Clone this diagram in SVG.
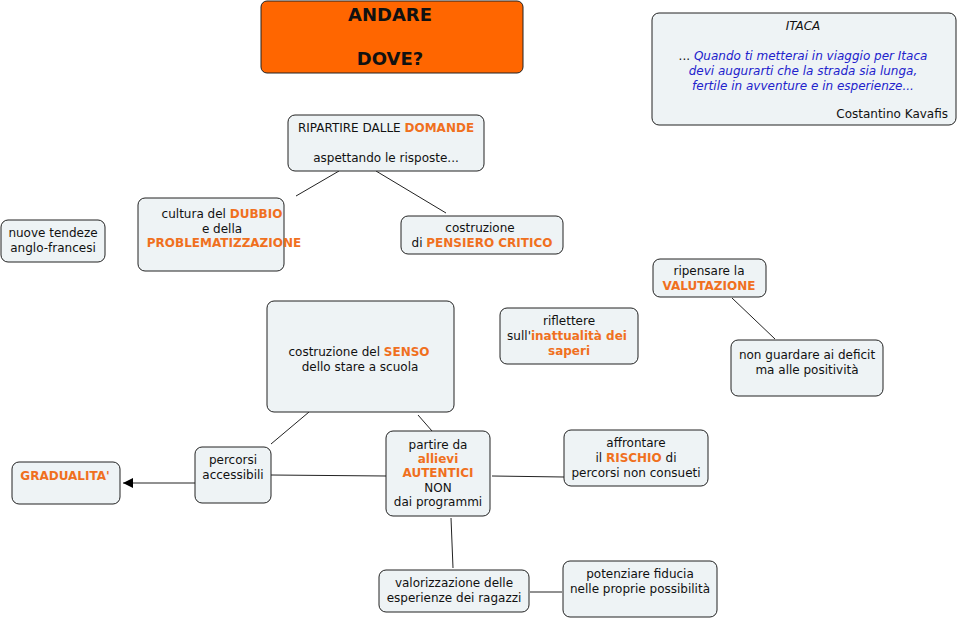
<svg xmlns="http://www.w3.org/2000/svg" width="959" height="620" viewBox="0 0 959 620">
<defs>
<style>
.n{fill:#EEF3F5;stroke:#222;stroke-width:1}
.t{font-family:"DejaVu Sans",Verdana,sans-serif;font-size:12px;fill:#111;text-anchor:middle}
.o{fill:#F0701E;font-weight:bold}
.q{fill:#2222CC;font-style:italic}
.c{stroke:#222;stroke-width:1;fill:none}
.h{font-size:18px;font-weight:bold}
</style>
<marker id="ar" viewBox="0 0 10 10" refX="10" refY="5" markerWidth="10" markerHeight="10" markerUnits="userSpaceOnUse" orient="auto"><path d="M0,0L10,5L0,10z" fill="#000"/></marker>
</defs>
<rect width="959" height="620" fill="#fff"/>
<g id="connectors">
<line class="c" x1="339" y1="171" x2="296" y2="196"/>
<line class="c" x1="376" y1="171" x2="446" y2="213"/>
<line class="c" x1="732" y1="298" x2="775" y2="339"/>
<line class="c" x1="309" y1="412" x2="271" y2="444"/>
<line class="c" x1="418" y1="415" x2="432" y2="431"/>
<line class="c" x1="271" y1="475" x2="386" y2="476"/>
<line class="c" x1="195" y1="483" x2="123" y2="483" marker-end="url(#ar)"/>
<line class="c" x1="492" y1="476" x2="564" y2="477"/>
<line class="c" x1="451" y1="518" x2="453" y2="568"/>
<line class="c" x1="530" y1="592" x2="562" y2="592"/>
</g>
<g id="title">
<rect x="261" y="1" width="262" height="72" rx="6" fill="#FF6600" stroke="#222"/>
<text class="t h" x="390" y="21">ANDARE</text>
<text class="t h" x="390" y="65">DOVE?</text>
</g>
<g id="itaca">
<rect class="n" x="652" y="13" width="304" height="112" rx="7"/>
<text class="t" x="803" y="30" style="font-style:italic">ITACA</text>
<text class="t" x="803" y="60">... <tspan class="q">Quando ti metterai in viaggio per Itaca</tspan></text>
<text class="t q" x="803" y="75">devi augurarti che la strada sia lunga,</text>
<text class="t q" x="803" y="90">fertile in avventure e in esperienze...</text>
<text class="t" x="948" y="118" style="text-anchor:end">Costantino Kavafis</text>
</g>
<g id="ripartire">
<rect class="n" x="288" y="115" width="196" height="56" rx="7"/>
<text class="t" x="386" y="132">RIPARTIRE DALLE <tspan class="o">DOMANDE</tspan></text>
<text class="t" x="386" y="162">aspettando le risposte...</text>
</g>
<g id="cultura">
<rect class="n" x="138" y="198" width="146" height="73" rx="7"/>
<text class="t" x="222" y="218">cultura del <tspan class="o">DUBBIO</tspan></text>
<text class="t" x="222" y="233">e della</text>
<text class="t o" x="224" y="247">PROBLEMATIZZAZIONE</text>
</g>
<g id="pensiero">
<rect class="n" x="401" y="216" width="162" height="38" rx="7"/>
<text class="t" x="480" y="232">costruzione</text>
<text class="t" x="482" y="247">di <tspan class="o">PENSIERO CRITICO</tspan></text>
</g>
<g id="nuove">
<rect class="n" x="1" y="220" width="104" height="42" rx="7"/>
<text class="t" x="53" y="237">nuove tendeze</text>
<text class="t" x="53" y="252">anglo-francesi</text>
</g>
<g id="ripensare">
<rect class="n" x="653" y="259" width="113" height="38" rx="7"/>
<text class="t" x="709" y="275">ripensare la</text>
<text class="t o" x="709" y="290">VALUTAZIONE</text>
</g>
<g id="riflettere">
<rect class="n" x="500" y="308" width="138" height="56" rx="7"/>
<text class="t" x="569" y="325">riflettere</text>
<text class="t" x="567" y="340">sull'<tspan class="o">inattualità dei</tspan></text>
<text class="t o" x="569" y="355">saperi</text>
</g>
<g id="deficit">
<rect class="n" x="731" y="340" width="152" height="56" rx="7"/>
<text class="t" x="807" y="359">non guardare ai deficit</text>
<text class="t" x="807" y="374">ma alle positività</text>
</g>
<g id="senso">
<rect class="n" x="267" y="301" width="187" height="111" rx="7"/>
<text class="t" x="359" y="356">costruzione del <tspan class="o">SENSO</tspan></text>
<text class="t" x="360" y="371">dello stare a scuola</text>
</g>
<g id="percorsi">
<rect class="n" x="195" y="447" width="76" height="56" rx="7"/>
<text class="t" x="233" y="464">percorsi</text>
<text class="t" x="233" y="479">accessibili</text>
</g>
<g id="gradualita">
<rect class="n" x="12" y="462" width="108" height="42" rx="7"/>
<text class="t o" x="65" y="480">GRADUALITA'</text>
</g>
<g id="partire">
<rect class="n" x="386" y="431" width="104" height="85" rx="7"/>
<text class="t" x="438" y="449">partire da</text>
<text class="t o" x="438" y="463">allievi</text>
<text class="t o" x="438" y="477">AUTENTICI</text>
<text class="t" x="438" y="492">NON</text>
<text class="t" x="438" y="506">dai programmi</text>
</g>
<g id="affrontare">
<rect class="n" x="564" y="430" width="144" height="56" rx="7"/>
<text class="t" x="636" y="447">affrontare</text>
<text class="t" x="636" y="462">il <tspan class="o">RISCHIO</tspan> di</text>
<text class="t" x="636" y="477">percorsi non consueti</text>
</g>
<g id="valorizzazione">
<rect class="n" x="379" y="570" width="150" height="42" rx="7"/>
<text class="t" x="454" y="587">valorizzazione delle</text>
<text class="t" x="454" y="602">esperienze dei ragazzi</text>
</g>
<g id="potenziare">
<rect class="n" x="563" y="561" width="154" height="56" rx="7"/>
<text class="t" x="640" y="578">potenziare fiducia</text>
<text class="t" x="640" y="593">nelle proprie possibilità</text>
</g>
</svg>
